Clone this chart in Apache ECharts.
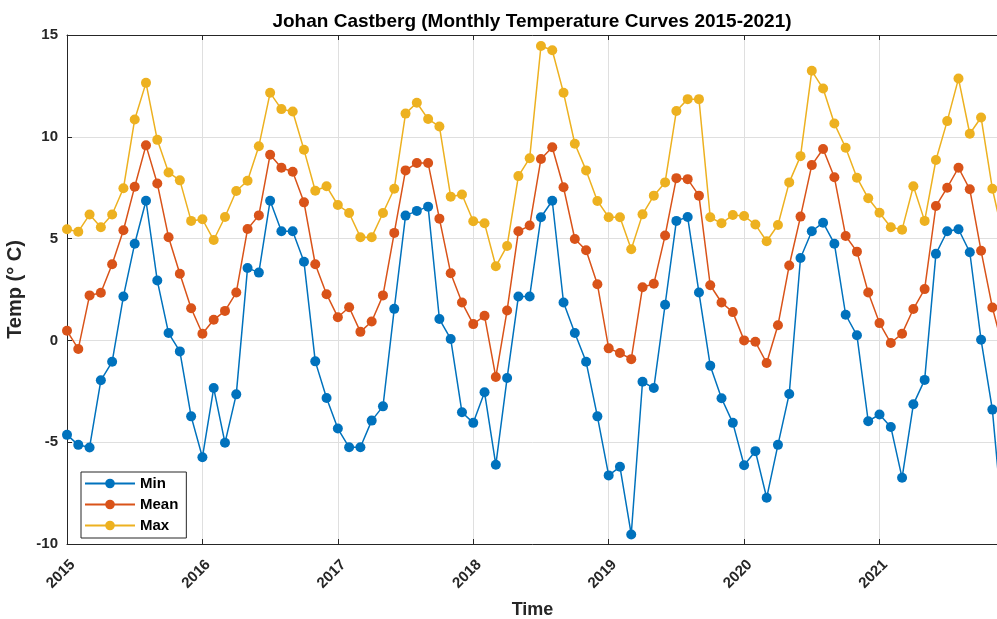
<!DOCTYPE html>
<html>
<head>
<meta charset="utf-8">
<title>Johan Castberg</title>
<script src="https://cdn.jsdelivr.net/npm/echarts@6/dist/echarts.min.js"></script>
<style>
  html, body { margin: 0; padding: 0; background: #fff; }
  #chart { width: 997px; height: 619px; }
</style>
</head>
<body>
<div id="chart"></div>
<script>
// monthly values Jan 2015 .. Dec 2021 (index 0 = Jan 2015)
const startYear = 2015;
const yearTicks = ["2015", "2016", "2017", "2018", "2019", "2020", "2021"];

const minTemp = [
  -4.64, -5.13, -5.26, -1.96, -1.05, 2.16, 4.75, 6.86, 2.94, 0.36, -0.54, -3.73,
  -5.74, -2.34, -5.03, -2.65, 3.56, 3.33, 6.86, 5.36, 5.36, 3.86, -1.03, -2.83,
  -4.33, -5.25, -5.25, -3.94, -3.24, 1.55, 6.13, 6.36, 6.57, 1.05, 0.07, -3.53,
  -4.05, -2.55, -6.11, -1.85, 2.16, 2.16, 6.05, 6.86, 1.86, 0.36, -1.05, -3.73,
  -6.63, -6.21, -9.53, -2.03, -2.34, 1.75, 5.87, 6.06, 2.35, -1.24, -2.84, -4.05,
  -6.13, -5.44, -7.73, -5.13, -2.63, 4.05, 5.36, 5.78, 4.75, 1.26, 0.25, -3.97,
  -3.64, -4.25, -6.75, -3.14, -1.94, 4.25, 5.36, 5.46, 4.33, 0.03, -3.40, -9.5
];
const meanTemp = [
  0.47, -0.42, 2.21, 2.34, 3.74, 5.41, 7.55, 9.58, 7.71, 5.07, 3.27, 1.58,
  0.33, 1.01, 1.45, 2.35, 5.47, 6.14, 9.12, 8.48, 8.28, 6.78, 3.74, 2.27,
  1.14, 1.63, 0.42, 0.93, 2.21, 5.28, 8.35, 8.71, 8.71, 5.98, 3.30, 1.86,
  0.80, 1.21, -1.80, 1.47, 5.36, 5.64, 8.91, 9.49, 7.52, 4.98, 4.43, 2.76,
  -0.39, -0.62, -0.92, 2.61, 2.78, 5.15, 7.97, 7.92, 7.11, 2.71, 1.86, 1.39,
  0.00, -0.07, -1.11, 0.74, 3.68, 6.08, 8.61, 9.40, 8.01, 5.13, 4.36, 2.35,
  0.85, -0.13, 0.33, 1.54, 2.52, 6.60, 7.50, 8.48, 7.42, 4.40, 1.62, -0.5
];
const maxTemp = [
  5.46, 5.34, 6.18, 5.56, 6.18, 7.47, 10.85, 12.65, 9.85, 8.25, 7.86, 5.87,
  5.95, 4.93, 6.06, 7.34, 7.84, 9.54, 12.16, 11.36, 11.24, 9.36, 7.35, 7.57,
  6.65, 6.26, 5.07, 5.07, 6.26, 7.45, 11.14, 11.67, 10.87, 10.51, 7.06, 7.17,
  5.85, 5.75, 3.64, 4.64, 8.07, 8.95, 14.46, 14.25, 12.16, 9.66, 8.35, 6.85,
  6.05, 6.05, 4.48, 6.19, 7.11, 7.76, 11.27, 11.85, 11.85, 6.05, 5.75, 6.16,
  6.11, 5.69, 4.87, 5.67, 7.76, 9.05, 13.24, 12.37, 10.65, 9.46, 7.99, 6.98,
  6.27, 5.56, 5.44, 7.57, 5.87, 8.86, 10.77, 12.86, 10.15, 10.95, 7.45, 5.0
];

const colors = ["#0072BD", "#D95319", "#EDB120"];
const axisColor = "#262626";
const font = "'Liberation Sans', Arial, sans-serif";

const toPairs = (arr) => arr.map((v, i) => [i, v]);

const chart = echarts.init(document.getElementById("chart"), null, { renderer: "canvas" });

const makeSeries = (name, data, color) => ({
  name,
  type: "line",
  data: toPairs(data),
  symbol: "circle",
  symbolSize: 10,
  showAllSymbol: true,
  clip: true,
  lineStyle: { color, width: 1.5 },
  itemStyle: { color, borderWidth: 0 },
  emphasis: { disabled: true },
  animation: false,
});

const option = {
  backgroundColor: "#fff",
  textStyle: { fontFamily: font },
  title: {
    text: "Johan Castberg (Monthly Temperature Curves 2015-2021)",
    left: 527,
    textAlign: "center",
    top: 7,
    textStyle: { fontSize: 19, fontWeight: "bold", color: "#000", fontFamily: font },
  },
  color: colors,
  grid: { left: 67, right: -1, top: 35, bottom: 75, containLabel: false, outerBoundsMode: "none" },
  legend: {
    orient: "vertical",
    left: 81,
    top: 472,
    padding: [4, 8, 5, 3],
    itemGap: 6,
    itemWidth: 50,
    itemHeight: 12,
    backgroundColor: "#fff",
    borderColor: axisColor,
    borderWidth: 1,
    textStyle: { fontSize: 15, fontWeight: "bold", color: "#000", fontFamily: font },
    data: ["Min", "Mean", "Max"],
  },
  xAxis: [
    {
      type: "value",
      min: 0,
      max: 82.5,
      interval: 12,
      name: "Time",
      nameLocation: "middle",
      nameGap: 57,
      nameTextStyle: { fontSize: 18, fontWeight: "bold", color: axisColor, fontFamily: font },
      axisLine: { show: true, onZero: false, lineStyle: { color: axisColor, width: 1 } },
      axisTick: { show: true, inside: true, length: 5, lineStyle: { color: axisColor } },
      axisLabel: {
        rotate: 45,
        margin: 24,
        padding: [0, -8, 0, 0],
        fontSize: 15,
        fontWeight: "bold",
        color: axisColor,
        fontFamily: font,
        showMaxLabel: false,
        formatter: (v) => (v % 12 === 0 ? yearTicks[v / 12] || String(startYear + v / 12) : ""),
      },
      splitLine: { show: true, lineStyle: { color: "#dfdfdf", width: 1 } },
    },
    {
      type: "value",
      position: "top",
      min: 0,
      max: 82.5,
      interval: 12,
      axisLine: { show: true, onZero: false, lineStyle: { color: axisColor, width: 1 } },
      axisTick: { show: true, inside: true, length: 5, lineStyle: { color: axisColor } },
      axisLabel: { show: false },
      splitLine: { show: false },
    },
  ],
  yAxis: {
    type: "value",
    min: -10,
    max: 15,
    interval: 5,
    name: "Temp (° C)",
    nameLocation: "middle",
    nameGap: 31,
    nameTextStyle: { fontSize: 20, fontWeight: "bold", color: axisColor, fontFamily: font },
    axisLine: { show: true, onZero: false, lineStyle: { color: axisColor, width: 1 } },
    axisTick: { show: true, inside: true, length: 5, lineStyle: { color: axisColor } },
    axisLabel: { margin: 9, fontSize: 15, fontWeight: "bold", color: axisColor, fontFamily: font },
    splitLine: { show: true, lineStyle: { color: "#dfdfdf", width: 1 } },
  },
  series: [
    makeSeries("Min", minTemp, colors[0]),
    makeSeries("Mean", meanTemp, colors[1]),
    makeSeries("Max", maxTemp, colors[2]),
  ],
  animation: false,
};

chart.setOption(option);
</script>
</body>
</html>
